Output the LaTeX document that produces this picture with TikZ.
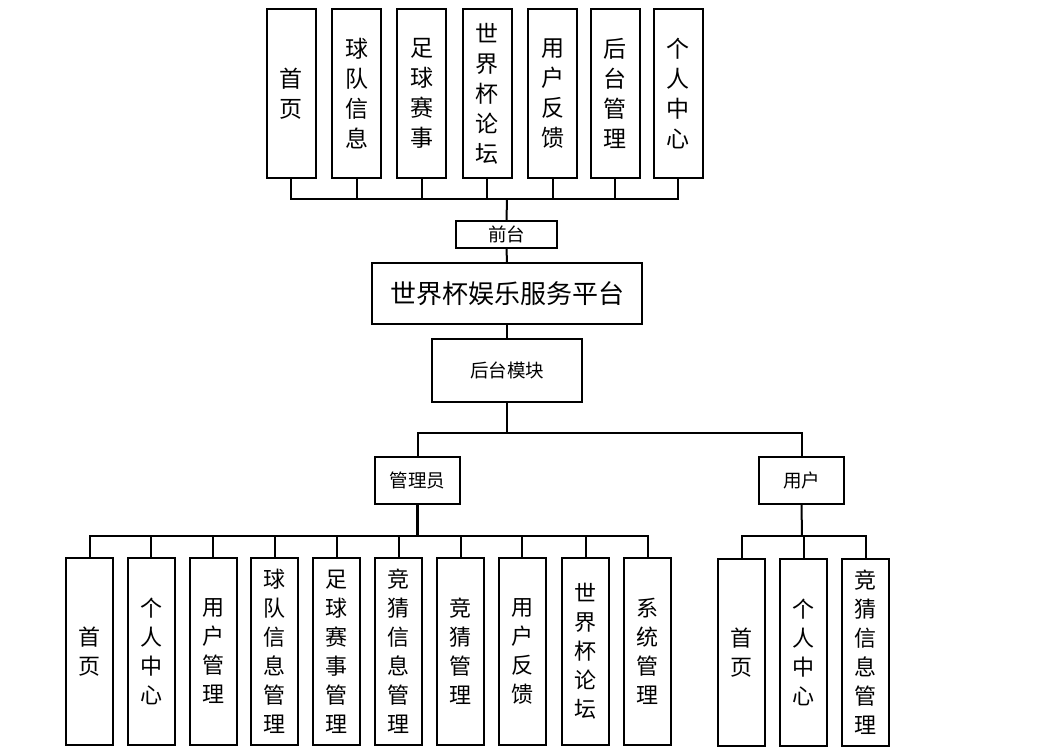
\documentclass[tikz,border=0pt]{standalone}
\usepackage{fontspec}
\newfontfamily\cjk{Noto Sans CJK SC}
\begin{document}
\begin{tikzpicture}[x=1pt,y=-1pt,
  box/.style={draw, line width=2pt, inner sep=0pt, align=center, fill=white},
  topbox/.style={box, minimum width=49pt, minimum height=169pt, font=\cjk\fontsize{23}{30}\selectfont},
  botbox/.style={box, minimum width=47pt, minimum height=187pt, font=\cjk\fontsize{22}{29}\selectfont},
  smallbox/.style={box, font=\cjk\fontsize{18.5}{22}\selectfont},
  conn/.style={line width=2pt}]
\useasboundingbox (0,0) rectangle (1038,755);
% top row
\node[topbox] (t1) at (291,93.5) {首\\页};
\node[topbox] (t2) at (356.5,93.5) {球\\队\\信\\息};
\node[topbox] (t3) at (421.5,93.5) {足\\球\\赛\\事};
\node[topbox] (t4) at (487,93.5) {世\\界\\杯\\论\\坛};
\node[topbox] (t5) at (552.5,93.5) {用\\户\\反\\馈};
\node[topbox] (t6) at (615,93.5) {后\\台\\管\\理};
\node[topbox] (t7) at (678,93.5) {个\\人\\中\\心};
\coordinate (bus1) at (507,199);
\node[smallbox, minimum width=101pt, minimum height=27pt] (qt) at (506.5,234.5) {前台};
\node[box, minimum width=270pt, minimum height=61pt, font=\cjk\fontsize{26}{30}\selectfont] (main) at (507,293.5) {世界杯娱乐服务平台};
\node[smallbox, minimum width=150pt, minimum height=63pt] (hm) at (507,370.5) {后台模块};
\coordinate (bus2) at (507,433);
\node[smallbox, minimum width=85pt, minimum height=47pt] (admin) at (417.5,480.5) {管理员};
\node[smallbox, minimum width=85pt, minimum height=47pt] (user) at (801.5,480.5) {用户};
\coordinate (bus3) at (417.5,536);
\coordinate (bus4) at (802,536);
% admin children
\node[botbox] (a1) at (89.5,651.5) {首\\页};
\node[botbox] (a2) at (151,651.5) {个\\人\\中\\心};
\node[botbox] (a3) at (213,651.5) {用\\户\\管\\理};
\node[botbox] (a4) at (274.5,651.5) {球\\队\\信\\息\\管\\理};
\node[botbox] (a5) at (336.5,651.5) {足\\球\\赛\\事\\管\\理};
\node[botbox] (a6) at (398.5,651.5) {竞\\猜\\信\\息\\管\\理};
\node[botbox] (a7) at (460.5,651.5) {竞\\猜\\管\\理};
\node[botbox] (a8) at (522,651.5) {用\\户\\反\\馈};
\node[botbox] (a9) at (585.5,651.5) {世\\界\\杯\\论\\坛};
\node[botbox] (a10) at (647.5,651.5) {系\\统\\管\\理};
% user children
\node[botbox] (u1) at (741.5,652.5) {首\\页};
\node[botbox] (u2) at (803.5,652.5) {个\\人\\中\\心};
\node[botbox] (u3) at (865.5,652.5) {竞\\猜\\信\\息\\管\\理};
% connectors
\foreach \n in {t1,t2,t3,t4,t5,t6,t7} \draw[conn] (\n.south) |- (bus1);
\draw[conn] (bus1) -- (qt.north);
\draw[conn] (qt.south) -- (main.north);
\draw[conn] (main.south) -- (hm.north);
\draw[conn] (hm.south) -- (bus2);
\draw[conn] (admin.north) |- (bus2);
\draw[conn] (user.north) |- (bus2);
\draw[line width=3pt] (admin.south) -- (bus3);
\foreach \n in {a1,a2,a3,a4,a5,a6,a7,a8,a9,a10} \draw[conn] (\n.north) |- (bus3);
\draw[conn] (user.south) -- (bus4);
\foreach \n in {u1,u2,u3} \draw[conn] (\n.north) |- (bus4);
\end{tikzpicture}
\end{document}
